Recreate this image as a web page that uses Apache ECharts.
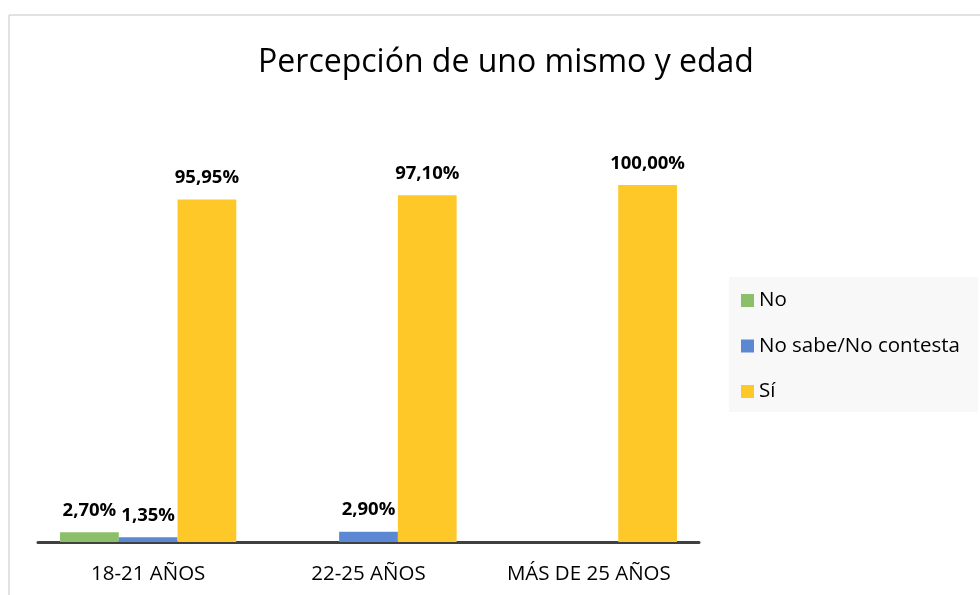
<!DOCTYPE html>
<html>
<head>
<meta charset="utf-8">
<script src="https://cdn.jsdelivr.net/npm/echarts@6/dist/echarts.min.js"></script>
<style>
  html, body { margin: 0; padding: 0; background: #fff; }
  #chart { width: 980px; height: 595px; }
</style>
</head>
<body>
<div id="chart"></div>
<script>
// categorías y valores (%)
const categories = ['18-21 AÑOS', '22-25 AÑOS', 'MÁS DE 25 AÑOS'];
const seriesNames = ['No', 'No sabe/No contesta', 'Sí'];
const noValues = [2.70, null, null];
const nsncValues = [1.35, 2.90, null];
const siValues = [95.95, 97.10, 100.00];

const colors = ['#8BBF69', '#5B87D3', '#FFC829'];
const font = '"Open Sans", "Noto Sans", sans-serif';

const chart = echarts.init(document.getElementById('chart'));

const fmt = p => p.value == null ? '' : p.value.toFixed(2).replace('.', ',') + '%';

const makeSeries = (name, data, color) => ({
  name: name,
  type: 'bar',
  data: data,
  barGap: '0%',
  barCategoryGap: '20%',
  itemStyle: { color: color },
  label: {
    show: true,
    position: 'top',
    distance: 12,
    formatter: fmt,
    color: '#000',
    fontWeight: 'bold',
    fontSize: 18.5,
    fontFamily: font
  }
});

chart.setOption({
  animation: false,
  title: {
    text: 'Percepción de uno mismo y edad',
    left: 501,
    textAlign: 'center',
    top: 42,
    textStyle: { fontFamily: font, fontWeight: 'normal', fontSize: 32, color: '#000' }
  },
  graphic: [
    { type: 'line', shape: { x1: 9, y1: 15, x2: 980, y2: 15 }, style: { stroke: '#d9d9d9', lineWidth: 1.5 } },
    { type: 'line', shape: { x1: 9, y1: 15, x2: 9, y2: 595 }, style: { stroke: '#d9d9d9', lineWidth: 1.5 } },
    { type: 'rect', shape: { x: 729, y: 277, width: 249, height: 135 }, style: { fill: '#f8f8f8' }, z: -1 }
  ],
  legend: {
    orient: 'vertical',
    left: 736,
    top: 285,
    itemWidth: 13,
    itemHeight: 13,
    itemGap: 24.5,
    icon: 'rect',
    data: seriesNames,
    textStyle: { fontFamily: font, fontSize: 20.5, color: '#000' }
  },
  grid: { left: 38, right: 281, top: 185, bottom: 53 },
  xAxis: {
    type: 'category',
    data: categories,
    axisLine: { lineStyle: { color: '#404040', width: 3 } },
    axisTick: { show: false },
    axisLabel: { fontFamily: font, fontSize: 20.5, color: '#000', margin: 22 }
  },
  yAxis: {
    type: 'value',
    min: 0,
    max: 100,
    show: false
  },
  series: [
    makeSeries(seriesNames[0], noValues, colors[0]),
    makeSeries(seriesNames[1], nsncValues, colors[1]),
    makeSeries(seriesNames[2], siValues, colors[2])
  ]
});
</script>
</body>
</html>
